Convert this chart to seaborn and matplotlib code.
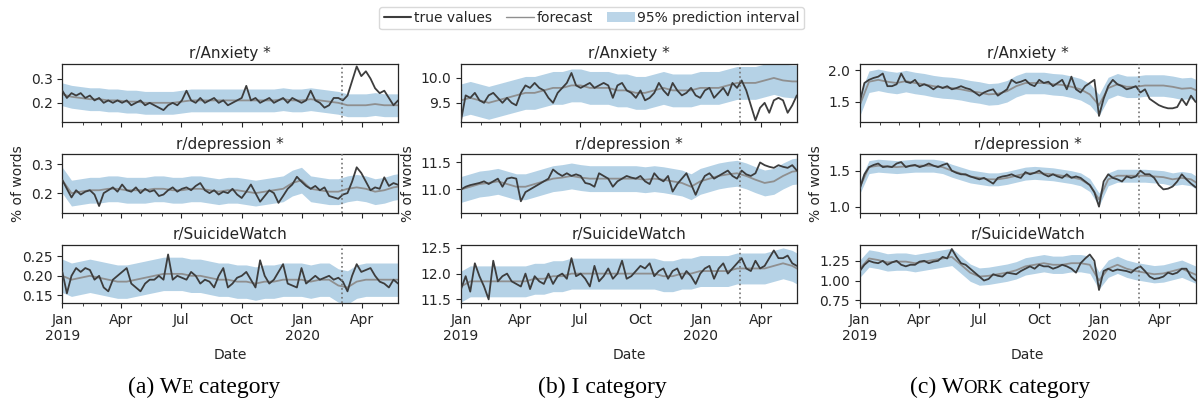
import numpy as np
import pandas as pd
import seaborn as sns
import matplotlib.pyplot as plt
from matplotlib.lines import Line2D
from matplotlib.patches import Patch
from matplotlib.ticker import FormatStrFormatter
import matplotlib.dates as mdates

# weekly samples of the observed series, biweekly samples of the forecast
week_dates = pd.date_range("2019-01-01", periods=74, freq="7D")
fc_dates = pd.date_range("2019-01-01", periods=38, freq="14D")
cutoff = pd.Timestamp("2020-03-01")

tick_dates = pd.to_datetime(["2019-01-01", "2019-04-01", "2019-07-01",
                             "2019-10-01", "2020-01-01", "2020-04-01"])
tick_labels = ["Jan\n2019", "Apr", "Jul", "Oct", "Jan\n2020", "Apr"]

subreddits = ["r/Anxiety *", "r/depression *", "r/SuicideWatch"]

# ---- WE category ----
we_anxiety_true = [
    0.25, 0.22, 0.24, 0.23, 0.24, 0.22, 0.23, 0.21, 0.22, 0.20,
    0.21, 0.20, 0.21, 0.20, 0.21, 0.19, 0.20, 0.21, 0.19, 0.20,
    0.19, 0.18, 0.17, 0.19, 0.20, 0.19, 0.21, 0.25, 0.21, 0.20,
    0.22, 0.20, 0.21, 0.22, 0.20, 0.21, 0.19, 0.20, 0.21, 0.22,
    0.27, 0.21, 0.22, 0.20, 0.21, 0.22, 0.20, 0.21, 0.22, 0.20,
    0.22, 0.21, 0.20, 0.21, 0.25, 0.21, 0.20, 0.18, 0.19, 0.22,
    0.22, 0.21, 0.23, 0.29, 0.35, 0.31, 0.33, 0.30, 0.26, 0.24,
    0.25, 0.22, 0.19, 0.21]
we_anxiety_fc = [
    0.235, 0.225, 0.22, 0.215, 0.215, 0.21, 0.21, 0.205, 0.205, 0.20,
    0.20, 0.20, 0.20, 0.205, 0.21, 0.21, 0.21, 0.21, 0.21, 0.21,
    0.21, 0.21, 0.21, 0.21, 0.215, 0.21, 0.21, 0.215, 0.21, 0.205,
    0.20, 0.19, 0.19, 0.19, 0.195, 0.19, 0.19, 0.19]
we_depression_true = [
    0.246, 0.215, 0.185, 0.21, 0.195, 0.205, 0.21, 0.195, 0.155, 0.20,
    0.21, 0.22, 0.205, 0.23, 0.21, 0.205, 0.22, 0.20, 0.215, 0.205,
    0.21, 0.19, 0.195, 0.21, 0.22, 0.205, 0.215, 0.22, 0.21, 0.225,
    0.235, 0.21, 0.20, 0.21, 0.195, 0.205, 0.20, 0.215, 0.195, 0.183,
    0.205, 0.23, 0.20, 0.17, 0.19, 0.21, 0.20, 0.166, 0.19, 0.215,
    0.23, 0.257, 0.24, 0.225, 0.215, 0.225, 0.21, 0.22, 0.19, 0.185,
    0.18, 0.195, 0.20, 0.24, 0.29, 0.27, 0.24, 0.21, 0.22, 0.215,
    0.255, 0.225, 0.235, 0.229]
we_depression_fc = [
    0.245, 0.20, 0.205, 0.21, 0.21, 0.215, 0.215, 0.21, 0.21, 0.21,
    0.215, 0.215, 0.21, 0.21, 0.215, 0.215, 0.21, 0.205, 0.21, 0.21,
    0.205, 0.20, 0.205, 0.21, 0.215, 0.235, 0.245, 0.215, 0.21, 0.205,
    0.205, 0.215, 0.22, 0.215, 0.205, 0.21, 0.22, 0.225]
we_suicide_true = [
    0.21, 0.155, 0.20, 0.22, 0.21, 0.22, 0.215, 0.19, 0.20, 0.17,
    0.16, 0.19, 0.20, 0.21, 0.22, 0.18, 0.17, 0.16, 0.18, 0.19,
    0.19, 0.20, 0.19, 0.255, 0.19, 0.20, 0.195, 0.19, 0.21, 0.20,
    0.18, 0.19, 0.185, 0.17, 0.20, 0.22, 0.17, 0.18, 0.195, 0.20,
    0.21, 0.19, 0.17, 0.24, 0.20, 0.18, 0.19, 0.21, 0.23, 0.18,
    0.175, 0.17, 0.22, 0.18, 0.19, 0.20, 0.19, 0.195, 0.20, 0.19,
    0.195, 0.185, 0.16, 0.20, 0.23, 0.21, 0.215, 0.22, 0.20, 0.185,
    0.18, 0.17, 0.19, 0.18]
we_suicide_fc = [
    0.20, 0.19, 0.195, 0.20, 0.195, 0.19, 0.185, 0.185, 0.19, 0.195,
    0.20, 0.205, 0.205, 0.205, 0.20, 0.20, 0.195, 0.19, 0.19, 0.185,
    0.185, 0.18, 0.185, 0.185, 0.19, 0.19, 0.19, 0.185, 0.19, 0.19,
    0.175, 0.17, 0.185, 0.19, 0.19, 0.19, 0.19, 0.19]
we_halfwidth = [0.047, 0.045, 0.043]

# ---- I category ----
i_anxiety_true = [
    9.15, 9.65, 9.6, 9.7, 9.55, 9.5, 9.65, 9.7, 9.6, 9.5,
    9.6, 9.5, 9.45, 9.7, 9.85, 9.8, 9.9, 9.8, 9.75, 9.6,
    9.5, 9.7, 9.8, 9.9, 10.1, 9.85, 9.8, 9.85, 9.9, 9.8,
    9.85, 9.9, 9.85, 9.6, 9.85, 9.9, 9.75, 9.7, 9.6, 9.75,
    9.55, 9.6, 9.7, 9.9, 9.75, 9.65, 9.9, 9.75, 9.65, 9.7,
    9.8, 9.65, 9.6, 9.75, 9.8, 9.6, 9.7, 9.8, 9.65, 9.9,
    9.8, 9.95, 9.75, 9.45, 9.15, 9.4, 9.5, 9.3, 9.55, 9.6,
    9.55, 9.3, 9.45, 9.65]
i_anxiety_fc = [
    9.55, 9.6, 9.55, 9.5, 9.55, 9.6, 9.65, 9.7, 9.7, 9.75,
    9.8, 9.8, 9.85, 9.85, 9.8, 9.8, 9.8, 9.75, 9.75, 9.7,
    9.7, 9.75, 9.8, 9.75, 9.75, 9.75, 9.8, 9.8, 9.8, 9.85,
    9.9, 9.9, 9.9, 9.95, 10.0, 9.95, 9.93, 9.93]
i_depression_true = [
    11.0, 11.05, 11.08, 11.1, 11.12, 11.15, 11.1, 11.15, 11.2, 11.05,
    11.2, 11.22, 11.2, 10.78, 10.95, 11.0, 11.05, 11.1, 11.15, 11.2,
    11.37, 11.3, 11.25, 11.3, 11.25, 11.28, 11.25, 11.12, 11.1, 11.05,
    11.3, 11.25, 11.2, 11.05, 11.15, 11.2, 11.25, 11.22, 11.2, 11.25,
    11.15, 11.1, 11.3, 11.2, 11.15, 11.25, 10.96, 11.1, 11.2, 11.3,
    11.1, 10.9, 11.1, 11.25, 11.3, 11.2, 11.25, 11.3, 11.35, 11.25,
    11.2, 11.35, 11.28, 11.25, 11.3, 11.5, 11.45, 11.42, 11.4, 11.45,
    11.42, 11.4, 11.45, 11.35]
i_depression_fc = [
    11.0, 11.05, 11.1, 11.12, 11.15, 11.1, 11.05, 11.05, 11.1, 11.15,
    11.2, 11.22, 11.25, 11.22, 11.2, 11.2, 11.2, 11.2, 11.2, 11.2,
    11.18, 11.2, 11.18, 11.15, 11.12, 11.05, 11.15, 11.2, 11.25, 11.28,
    11.3, 11.25, 11.18, 11.12, 11.15, 11.25, 11.33, 11.35]
i_suicide_true = [
    11.7, 11.95, 11.65, 12.2, 11.95, 11.75, 11.5, 12.25, 11.85, 11.95,
    12.0, 11.85, 11.8, 11.75, 12.0, 11.7, 11.95, 11.85, 11.8, 12.0,
    11.8, 11.95, 12.0, 11.9, 12.3, 11.95, 12.0, 11.9, 11.75, 12.15,
    11.85, 11.95, 12.1, 11.9, 12.0, 12.25, 11.9, 11.95, 12.05, 12.15,
    12.1, 12.2, 11.95, 12.05, 12.1, 11.9, 12.05, 12.1, 11.9, 12.05,
    11.95, 11.8, 12.0, 12.1, 12.15, 11.9, 12.1, 12.2, 12.0, 12.1,
    12.2, 12.3, 12.1, 12.05, 12.25, 12.1, 12.15, 12.3, 12.45, 12.3,
    12.3, 12.35, 12.2, 12.15]
i_suicide_fc = [
    11.75, 11.85, 11.85, 11.85, 11.85, 11.85, 11.85, 11.85, 11.9, 11.9,
    11.95, 11.95, 12.0, 12.0, 12.0, 12.0, 12.0, 12.0, 12.0, 12.0,
    12.0, 12.0, 11.95, 11.95, 12.0, 12.0, 12.05, 12.05, 12.05, 12.05,
    12.1, 12.1, 12.1, 12.1, 12.15, 12.2, 12.15, 12.05]
i_halfwidth = [0.33, 0.24, 0.30]

# ---- WORK category ----
work_anxiety_true = [
    1.5, 1.8, 1.85, 1.88, 1.9, 1.95, 1.75, 1.75, 1.78, 1.95,
    1.82, 1.8, 1.85, 1.75, 1.78, 1.75, 1.7, 1.75, 1.72, 1.75,
    1.7, 1.72, 1.75, 1.72, 1.7, 1.65, 1.6, 1.65, 1.68, 1.7,
    1.6, 1.65, 1.7, 1.85, 1.8, 1.82, 1.85, 1.78, 1.75, 1.85,
    1.8, 1.82, 1.75, 1.8, 1.85, 1.7, 1.9, 1.7, 1.65, 1.75,
    1.8, 1.85, 1.28, 1.55, 1.75, 1.85, 1.78, 1.75, 1.7, 1.72,
    1.75, 1.65, 1.7, 1.55, 1.5, 1.45, 1.42, 1.4, 1.4, 1.42,
    1.55, 1.45, 1.6, 1.5]
work_anxiety_fc = [
    1.45, 1.82, 1.85, 1.82, 1.8, 1.83, 1.8, 1.78, 1.75, 1.73,
    1.72, 1.7, 1.67, 1.65, 1.62, 1.63, 1.67, 1.75, 1.8, 1.8,
    1.8, 1.78, 1.77, 1.74, 1.7, 1.62, 1.45, 1.72, 1.78, 1.74,
    1.74, 1.76, 1.76, 1.76, 1.74, 1.71, 1.72, 1.66]
work_depression_true = [
    1.25, 1.45, 1.55, 1.58, 1.6, 1.55, 1.56, 1.55, 1.6, 1.62,
    1.55, 1.57, 1.58, 1.55, 1.57, 1.6, 1.57, 1.55, 1.58, 1.6,
    1.5, 1.47, 1.45, 1.45, 1.42, 1.4, 1.38, 1.4, 1.36, 1.32,
    1.4, 1.42, 1.43, 1.45, 1.42, 1.4, 1.48, 1.45, 1.47, 1.5,
    1.45, 1.42, 1.45, 1.42, 1.4, 1.45, 1.4, 1.42, 1.4, 1.35,
    1.3, 1.2, 1.0, 1.35, 1.45, 1.4, 1.38, 1.35, 1.42, 1.4,
    1.42, 1.5, 1.45, 1.45, 1.4, 1.3, 1.24, 1.25, 1.28, 1.35,
    1.45, 1.38, 1.32, 1.27]
work_depression_fc = [
    1.27, 1.55, 1.57, 1.56, 1.55, 1.56, 1.57, 1.57, 1.57, 1.55,
    1.5, 1.46, 1.42, 1.4, 1.38, 1.38, 1.4, 1.43, 1.46, 1.47,
    1.46, 1.45, 1.43, 1.41, 1.38, 1.3, 1.1, 1.38, 1.43, 1.43,
    1.43, 1.43, 1.42, 1.41, 1.38, 1.4, 1.38, 1.3]
work_suicide_true = [
    1.12, 1.2, 1.25, 1.23, 1.22, 1.25, 1.2, 1.23, 1.25, 1.2,
    1.18, 1.2, 1.2, 1.24, 1.25, 1.22, 1.24, 1.25, 1.3, 1.28,
    1.4, 1.3, 1.22, 1.2, 1.15, 1.1, 1.05, 1.0, 1.02, 1.08,
    1.06, 1.05, 1.1, 1.09, 1.08, 1.12, 1.15, 1.18, 1.15, 1.2,
    1.18, 1.18, 1.15, 1.17, 1.2, 1.18, 1.15, 1.1, 1.22, 1.28,
    1.33, 1.25, 0.88, 1.12, 1.15, 1.12, 1.14, 1.13, 1.12, 1.1,
    1.15, 1.18, 1.12, 1.05, 1.02, 1.03, 1.05, 1.1, 1.08, 1.1,
    1.15, 1.15, 1.05, 1.0]
work_suicide_fc = [
    1.15, 1.28, 1.26, 1.23, 1.24, 1.24, 1.22, 1.24, 1.26, 1.28,
    1.3, 1.2, 1.1, 1.05, 1.06, 1.08, 1.1, 1.13, 1.18, 1.2,
    1.22, 1.2, 1.2, 1.22, 1.22, 1.2, 1.0, 1.15, 1.2, 1.15,
    1.12, 1.1, 1.08, 1.09, 1.12, 1.15, 1.1, 1.05]
work_halfwidth = [0.17, 0.09, 0.11]

we_ylims = [(0.12, 0.36), (0.132, 0.335), (0.13, 0.28)]
i_ylims = [(9.11, 10.28), (10.57, 11.65), (11.43, 12.56)]
work_ylims = [(1.18, 2.10), (0.917, 1.727), (0.715, 1.454)]
we_yticks = [[0.2, 0.3], [0.2, 0.3], [0.15, 0.20, 0.25]]
i_yticks = [[9.5, 10.0], [11.0, 11.5], [11.5, 12.0, 12.5]]
work_yticks = [[1.5, 2.0], [1.0, 1.5], [0.75, 1.00, 1.25]]

columns = [
    ([we_anxiety_true, we_depression_true, we_suicide_true],
     [we_anxiety_fc, we_depression_fc, we_suicide_fc],
     we_halfwidth, we_ylims, we_yticks, ["%.1f", "%.1f", "%.2f"]),
    ([i_anxiety_true, i_depression_true, i_suicide_true],
     [i_anxiety_fc, i_depression_fc, i_suicide_fc],
     i_halfwidth, i_ylims, i_yticks, ["%.1f", "%.1f", "%.1f"]),
    ([work_anxiety_true, work_depression_true, work_suicide_true],
     [work_anxiety_fc, work_depression_fc, work_suicide_fc],
     work_halfwidth, work_ylims, work_yticks, ["%.1f", "%.1f", "%.2f"]),
]

captions = [
    [("(a) W", 17), ("E", 13.5), (" category", 17)],
    [("(b) I category", 17)],
    [("(c) W", 17), ("ORK", 13.5), (" category", 17)],
]
caption_centers = [204 / 1198, 602 / 1198, 1000 / 1198]

TRUE_COLOR = "#3d3d3d"
FC_COLOR = "#8f8f8f"
BAND_COLOR = "tab:blue"

sns.set_style("ticks")
plt.rcParams.update({
    "font.family": ["DejaVu Sans"],
    "xtick.labelsize": 10,
    "ytick.labelsize": 10,
    "axes.labelsize": 10,
    "xtick.major.size": 3.5,
    "ytick.major.size": 3.5,
    "xtick.minor.size": 2,
    "axes.linewidth": 0.9,
})

fig, axes = plt.subplots(3, 3, figsize=(11.98, 4.09), dpi=100, sharex=True)
fig.subplots_adjust(left=0.052, right=0.998, top=0.8435, bottom=0.2592,
                    wspace=0.1875, hspace=0.552)

for c, (trues, fcs, hws, ylims, yticks, fmts) in enumerate(columns):
    for r in range(3):
        ax = axes[r, c]
        fc = np.array(fcs[r])
        ax.fill_between(fc_dates, fc - hws[r], fc + hws[r], color=BAND_COLOR,
                        alpha=0.33, lw=0, zorder=1)
        sns.lineplot(x=fc_dates, y=fc, ax=ax, color=FC_COLOR, lw=1.3, zorder=2)
        sns.lineplot(x=week_dates, y=trues[r], ax=ax, color=TRUE_COLOR, lw=1.3, zorder=3)
        ax.axvline(cutoff, color="0.45", ls=":", lw=1.2, zorder=4)
        ax.set_title(subreddits[r], fontsize=11, pad=4)
        ax.set_ylim(*ylims[r])
        ax.set_yticks(yticks[r])
        ax.yaxis.set_major_formatter(FormatStrFormatter(fmts[r]))
        ax.set_xlim(week_dates[0], week_dates[-1])
        ax.set_xticks(tick_dates)
        ax.set_xticklabels(tick_labels)
        ax.xaxis.set_minor_locator(mdates.MonthLocator())
        ax.set_xlabel("")
        ax.set_ylabel("")
    axes[1, c].set_ylabel("% of words")
    axes[2, c].set_xlabel("Date")
    for r in range(2):
        axes[r, c].tick_params(axis="x", labelbottom=False)

handles = [Line2D([], [], color=TRUE_COLOR, lw=1.5),
           Line2D([], [], color=FC_COLOR, lw=1.0),
           Patch(facecolor=BAND_COLOR, alpha=0.3, lw=0)]
fig.legend(handles, ["true values", "forecast", "95% prediction interval"],
           loc="upper center", bbox_to_anchor=(0.494, 1.0), ncol=3, fontsize=10,
           handlelength=2.0, handletextpad=0.2, columnspacing=1.0,
           borderpad=0.3, edgecolor="0.85", framealpha=1)

# captions below each column, with small caps built from two font sizes
renderer = fig.canvas.get_renderer()
for cx, parts in zip(caption_centers, captions):
    texts = []
    x = 0.0
    for s, size in parts:
        t = fig.text(x, 0.04, s, fontsize=size, family="Liberation Serif",
                     color="black", ha="left", va="baseline")
        texts.append((t, x))
        x += t.get_window_extent(renderer).width / fig.bbox.width
    shift = cx - x / 2
    for t, x0 in texts:
        t.set_x(x0 + shift)

fig.savefig("out.png", dpi=100)
